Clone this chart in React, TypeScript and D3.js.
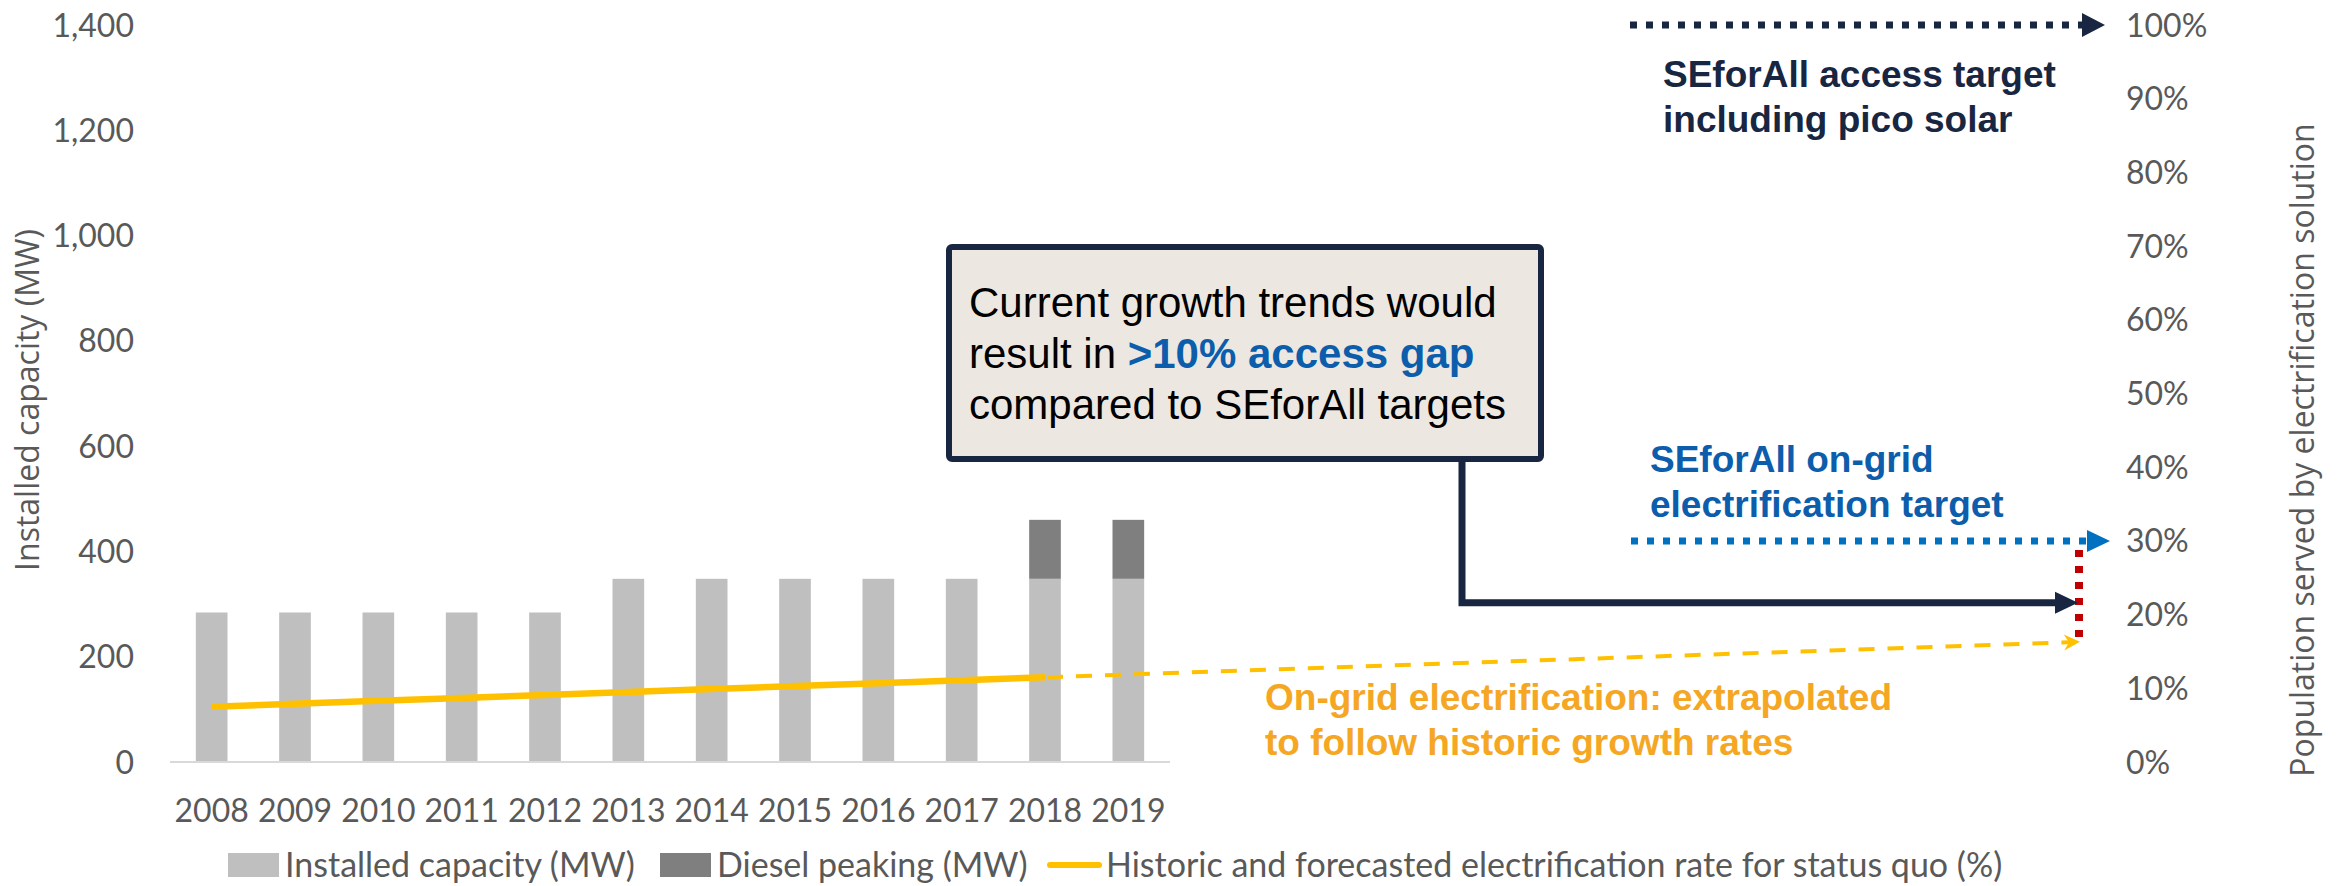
import React from 'react';
import * as d3 from 'd3';

// ---------- Data ----------
const years = ['2008', '2009', '2010', '2011', '2012', '2013', '2014', '2015', '2016', '2017', '2018', '2019'];
const installedCapacity = [284, 284, 284, 284, 284, 348, 348, 348, 348, 348, 348, 348];
const dieselPeaking = [0, 0, 0, 0, 0, 0, 0, 0, 0, 0, 112, 112];
const lineYears = ['2008', '2009', '2010', '2011', '2012', '2013', '2014', '2015', '2016', '2017', '2018'];
const electrificationRate = [0.075, 0.079, 0.083, 0.087, 0.091, 0.095, 0.099, 0.103, 0.107, 0.111, 0.115];
const forecastEndRate = 0.163;
const onGridTarget = 0.3;
const accessTarget = 1.0;
const currentTrendLevel = 0.216;
const leftTicks = [0, 200, 400, 600, 800, 1000, 1200, 1400];
const rightTicks = [0, 0.1, 0.2, 0.3, 0.4, 0.5, 0.6, 0.7, 0.8, 0.9, 1.0];
const legendLabels = ['Installed capacity (MW)', 'Diesel peaking (MW)', 'Historic and forecasted electrification rate for status quo (%)'];

// ---------- Styles ----------
const W = 2339;
const H = 886;
const calibri = "Lato, 'Liberation Sans', Arial, sans-serif";
const arial = "'Liberation Sans', Arial, sans-serif";
const segoe = "'Open Sans', 'Noto Sans', sans-serif";
const axisGrey = '#595959';
const navy = '#182642';
const blueArrow = '#0070c0';
const blueText = '#0c5dab';
const yellow = '#ffc000';
const orangeText = '#f5a623';
const red = '#c00000';

export default function App() {
  const x = d3.scaleBand<string>().domain(years).range([170, 1170]).paddingInner(0.62).paddingOuter(0.31);
  const yL = d3.scaleLinear().domain([0, 1400]).range([762, 25]);
  const yR = d3.scaleLinear().domain([0, 1]).range([762, 25]);
  const cx = (yr: string) => (x(yr) as number) + x.bandwidth() / 2;

  const fmtL = d3.format(',');
  const fmtR = d3.format('.0%');

  const linePath = d3
    .line<number>()
    .x((_, i) => cx(lineYears[i]))
    .y((d) => yR(d))(electrificationRate) as string;

  // annotation geometry
  const arrowTipX = 2080;
  const lastX = cx(lineYears[lineYears.length - 1]);
  const lastY = yR(electrificationRate[electrificationRate.length - 1]);
  const endY = yR(forecastEndRate);
  const ang = Math.atan2(endY - lastY, arrowTipX - lastX);
  const headPt = (l: number, w: number) => {
    const bx = arrowTipX - l * Math.cos(ang);
    const by = endY - l * Math.sin(ang);
    const nx = -Math.sin(ang);
    const ny = Math.cos(ang);
    return [bx + nx * w, by + ny * w, bx - nx * w, by - ny * w, bx, by];
  };
  const hp = headPt(16, 8);
  const notch = [arrowTipX - 11 * Math.cos(ang), endY - 11 * Math.sin(ang)];

  const yAccess = yR(accessTarget);
  const yOnGrid = yR(onGridTarget);
  const yTrend = yR(currentTrendLevel);

  return (
    <svg width={W} height={H} style={{ position: 'absolute', left: 0, top: 0, background: '#fff' }}>
      <style>{`body{margin:0;overflow:hidden}`}</style>

      {/* bars */}
      {years.map((yr, i) => (
        <g key={yr}>
          <rect x={x(yr)} y={yL(installedCapacity[i])} width={x.bandwidth()} height={yL(0) - yL(installedCapacity[i])} fill="#bfbfbf" />
          {dieselPeaking[i] > 0 && (
            <rect
              x={x(yr)}
              y={yL(installedCapacity[i] + dieselPeaking[i])}
              width={x.bandwidth()}
              height={yL(installedCapacity[i]) - yL(installedCapacity[i] + dieselPeaking[i])}
              fill="#7f7f7f"
            />
          )}
        </g>
      ))}

      {/* x axis line */}
      <line x1={170} x2={1170} y1={yL(0)} y2={yL(0)} stroke="#d9d9d9" strokeWidth={2} />

      {/* left tick labels */}
      {leftTicks.map((t) => (
        <text key={t} x={134} y={yL(t)} dy="0.36em" textAnchor="end" fontFamily={calibri} fontSize={32} fill={axisGrey}>
          {fmtL(t)}
        </text>
      ))}

      {/* right tick labels */}
      {rightTicks.map((t) => (
        <text key={t} x={2126} y={yR(t)} dy="0.36em" textAnchor="start" fontFamily={calibri} fontSize={32} fill={axisGrey}>
          {fmtR(t)}
        </text>
      ))}

      {/* year labels */}
      {years.map((yr) => (
        <text key={yr} x={cx(yr)} y={822} textAnchor="middle" fontFamily={calibri} fontSize={32} fill={axisGrey}>
          {yr}
        </text>
      ))}

      {/* axis titles */}
      <text transform={`translate(27,400) rotate(-90)`} textAnchor="middle" dy="0.36em" fontFamily={segoe} fontSize={32} fill={axisGrey}>
        Installed capacity (MW)
      </text>
      <text transform={`translate(2302,450) rotate(-90)`} textAnchor="middle" dy="0.36em" fontFamily={segoe} fontSize={32} fill={axisGrey}>
        Population served by electrification solution
      </text>

      {/* historic line */}
      <path d={linePath} fill="none" stroke={yellow} strokeWidth={6.5} />

      {/* extrapolated dashed line */}
      <line x1={lastX + 2} y1={lastY} x2={notch[0]} y2={notch[1]} stroke={yellow} strokeWidth={4} strokeDasharray="16 13" />
      <polygon points={`${arrowTipX},${endY} ${hp[0]},${hp[1]} ${notch[0]},${notch[1]} ${hp[2]},${hp[3]}`} fill={yellow} />

      {/* red gap dotted line */}
      <line x1={2079} x2={2079} y1={yOnGrid + 9} y2={endY - 2} stroke={red} strokeWidth={8} strokeDasharray="7 9" />

      {/* navy dotted access target arrow */}
      <line x1={1630} x2={2083} y1={yAccess} y2={yAccess} stroke={navy} strokeWidth={7} strokeDasharray="7 9" />
      <polygon points={`2105,${yAccess} 2082,${yAccess - 12} 2082,${yAccess + 12}`} fill={navy} />

      {/* blue dotted on-grid target arrow */}
      <line x1={1631} x2={2088} y1={yOnGrid} y2={yOnGrid} stroke={blueArrow} strokeWidth={7} strokeDasharray="7 9" />
      <polygon points={`2110,${yOnGrid} 2087,${yOnGrid - 11} 2087,${yOnGrid + 11}`} fill={blueArrow} />

      {/* navy connector arrow from box */}
      <path d={`M1462,460 V${yTrend} H2057`} fill="none" stroke={navy} strokeWidth={7} strokeLinejoin="miter" />
      <polygon points={`2078,${yTrend} 2055,${yTrend - 11} 2055,${yTrend + 11}`} fill={navy} />

      {/* call-out box */}
      <rect x={949} y={247} width={592} height={212} rx={3} fill="#ece8e1" stroke={navy} strokeWidth={6} />
      <text fontFamily={arial} fontSize={42} fill="#000">
        <tspan x={969} y={317}>Current growth trends would</tspan>
        <tspan x={969} y={368}>result in </tspan>
        <tspan fill={blueText} fontWeight="bold">&gt;10% access gap</tspan>
        <tspan x={969} y={419}>compared to SEforAll targets</tspan>
      </text>

      {/* navy annotation text */}
      <text fontFamily={arial} fontSize={37} fontWeight="bold" fill={navy}>
        <tspan x={1663} y={87}>SEforAll access target</tspan>
        <tspan x={1663} y={132}>including pico solar</tspan>
      </text>

      {/* blue annotation text */}
      <text fontFamily={arial} fontSize={37} fontWeight="bold" fill={blueText}>
        <tspan x={1650} y={472}>SEforAll on-grid</tspan>
        <tspan x={1650} y={517}>electrification target</tspan>
      </text>

      {/* orange annotation text */}
      <text fontFamily={arial} fontSize={37} fontWeight="bold" fill={orangeText}>
        <tspan x={1265} y={710}>On-grid electrification: extrapolated</tspan>
        <tspan x={1265} y={755}>to follow historic growth rates</tspan>
      </text>

      {/* legend */}
      <rect x={228} y={853} width={51} height={24} fill="#bfbfbf" />
      <text x={285} y={865} dy="0.36em" fontFamily={calibri} fontSize={34} fill={axisGrey}>
        {legendLabels[0]}
      </text>
      <rect x={660} y={853} width={51} height={24} fill="#7f7f7f" />
      <text x={717} y={865} dy="0.36em" fontFamily={calibri} fontSize={34} fill={axisGrey}>
        {legendLabels[1]}
      </text>
      <line x1={1050} x2={1099} y1={865} y2={865} stroke={yellow} strokeWidth={6} strokeLinecap="round" />
      <text x={1106} y={865} dy="0.36em" fontFamily={calibri} fontSize={34} fill={axisGrey}>
        {legendLabels[2]}
      </text>
    </svg>
  );
}
